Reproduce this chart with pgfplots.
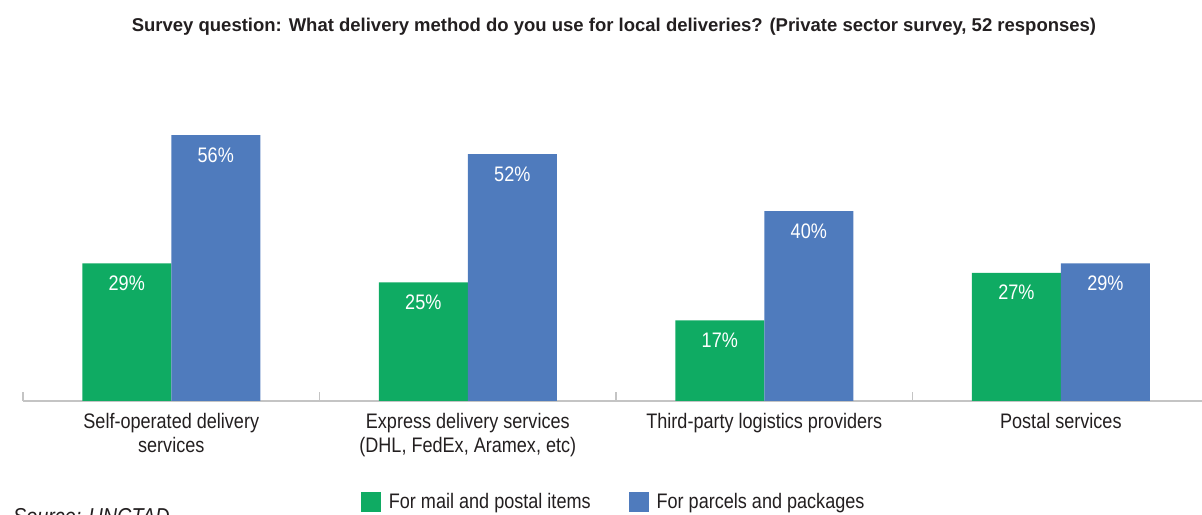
\documentclass[border=0pt]{standalone}
\usepackage{fontspec}
\setmainfont{Liberation Sans}[FakeStretch=0.86]
\newfontfamily\titlefont{Liberation Sans}
\usepackage{pgfplots}
\pgfplotsset{compat=1.18}
\definecolor{cgreen}{HTML}{0FAB63}
\definecolor{cblue}{HTML}{4F7BBD}
\definecolor{ctext}{HTML}{231F20}
\definecolor{caxis}{HTML}{C4C4C4}
\begin{document}
\begin{tikzpicture}
\path[use as bounding box] (0,0) rectangle (1202pt,514pt);
\node[font=\titlefont\bfseries\fontsize{18.5}{22}\selectfont, text=ctext] at (614pt,487pt) {Survey question: What delivery method do you use for local deliveries? (Private sector survey, 52 responses)};
\node[font=\itshape\fontsize{23}{26}\selectfont, text=ctext, anchor=north west, inner sep=0pt] at (13pt,6pt) {Source: UNCTAD};
\begin{axis}[
  at={(23pt,113pt)}, anchor=south west,
  scale only axis, width=1179pt, height=285pt,
  xmin=-0.5, xmax=3.476, ymin=0, ymax=60,
  ybar=0pt, bar width=89pt,
  axis y line=none, axis x line*=bottom,
  x axis line style={caxis, line width=2pt, -},
  xtick={0,1,2,3},
  xticklabels={{Self-operated delivery\\services},{Express delivery services\\(DHL, FedEx, Aramex, etc)},{Third-party logistics providers},{Postal services}},
  x tick label style={align=center, font=\fontsize{21}{24}\selectfont, text=ctext, yshift=-9pt},
  major tick length=0pt,
  minor xtick={-0.5,0.5,1.5,2.5},
  minor tick length=9pt, tick align=inside,
  minor tick style={caxis, line width=1.5pt},
  clip=false,
  /pgf/number format/assume math mode=true,
  nodes near coords={\pgfmathprintnumber{\pgfplotspointmeta}\%},
  every node near coord/.append style={anchor=north, yshift=-9pt, white, font=\fontsize{21}{24}\selectfont},
  legend style={at={(0.501,-0.354)}, anchor=center, draw=none, legend columns=2, font=\fontsize{21}{24}\selectfont, text=ctext, /tikz/every even column/.append style={column sep=36pt}, /tikz/every odd column/.append style={column sep=6pt}},
  legend image code/.code={\fill[#1] (0pt,-10pt) rectangle (20pt,10pt);},
]
\addplot[fill=cgreen, draw=none] coordinates {(0,29) (1,25) (2,17) (3,27)};
\addplot[fill=cblue, draw=none] coordinates {(0,56) (1,52) (2,40) (3,29)};
\legend{For mail and postal items, For parcels and packages}
\end{axis}
\end{tikzpicture}
\end{document}
